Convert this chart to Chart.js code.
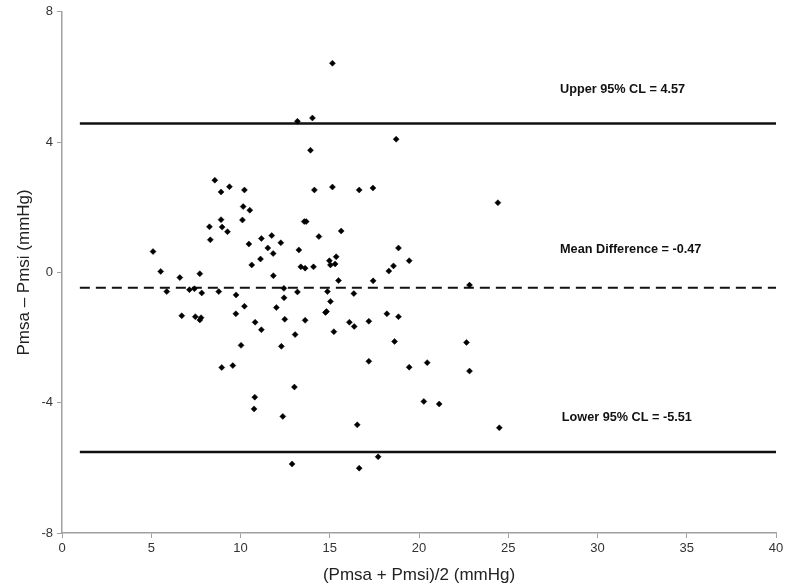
<!DOCTYPE html>
<html>
<head>
<meta charset="utf-8">
<script src="https://cdn.jsdelivr.net/npm/chart.js@4/dist/chart.umd.min.js"></script>
<style>
html,body{margin:0;padding:0;background:#fff;}
#wrap{width:800px;height:586px;position:relative;}
</style>
</head>
<body>
<div id="wrap"><canvas id="c" width="800" height="586"></canvas></div>
<script>
// Mean of the two measurements (mmHg)
const meanValues = [5.10,5.53,5.87,6.60,6.71,7.14,7.42,7.47,7.72,7.79,7.72,7.83,8.31,8.26,8.56,8.91,9.38,8.91,8.97,9.27,
  8.78,8.95,9.57,9.75,9.74,10.22,10.03,10.22,10.15,10.52,10.11,10.47,10.63,10.82,11.17,10.80,10.76,11.12,11.17,11.53,
  11.75,11.83,12.26,11.84,12.01,12.43,12.44,12.48,12.29,12.37,12.89,13.06,13.02,13.19,13.27,13.38,13.62,13.57,13.68,13.62,
  13.19,14.03,13.92,14.14,14.09,14.39,14.76,14.82,14.87,15.04,14.98,15.04,15.30,15.36,15.15,15.15,15.23,15.49,15.64,16.10,
  16.37,16.35,16.54,16.65,16.65,17.19,17.19,17.42,17.43,17.71,18.20,18.31,18.57,18.72,18.85,18.85,18.63,19.45,19.45,20.46,
  20.27,21.13,22.66,22.83,22.83,24.42,24.50];
// Difference of the two measurements (mmHg)
const diffValues = [0.64,0.03,-0.59,-0.16,-1.33,-0.53,-0.50,-1.36,-1.46,-1.39,-0.04,-0.63,1.00,1.40,2.83,2.47,2.63,1.62,1.39,1.25,
  -0.59,-2.92,-2.86,-0.69,-1.27,-1.04,-2.24,2.53,2.02,1.91,1.61,0.87,0.23,-1.53,-1.76,-3.83,-4.19,0.41,1.04,0.75,
  1.13,0.58,0.91,-0.10,-1.08,-0.49,-0.78,-1.44,-2.27,-4.42,-5.88,-1.91,-3.52,-0.60,0.69,0.17,0.13,1.56,1.56,-1.47,
  4.64,4.74,3.75,2.53,0.17,1.10,-1.23,-1.20,-0.59,-0.89,0.36,0.23,0.26,0.48,2.62,6.42,-1.82,-0.25,1.27,-1.53,
  -1.66,-0.65,-4.68,-6.01,2.53,-1.50,-2.73,2.59,-0.26,-5.66,-1.27,0.04,0.20,4.09,0.75,-1.36,-2.12,0.36,-2.91,-2.77,
  -3.96,-4.04,-2.15,-3.03,-0.39,2.14,-4.77];
const upperCL = 4.57;
const meanDiff = -0.47;
const lowerCL = -5.51;
const lineRange = [1, 40];
const xTicks = [0,5,10,15,20,25,30,35,40];
const yTicks = [-8,-4,0,4,8];
const labelTexts = ['Upper 95% CL = 4.57', 'Mean Difference = -0.47', 'Lower 95% CL = -5.51'];

const points = meanValues.map((m,i)=>({x:m, y:diffValues[i]}));
const hline = v => lineRange.map(x=>({x:x, y:v}));

const labelPlugin = {
  id:'labels',
  afterDatasetsDraw(chart){
    const {ctx, scales:{x,y}} = chart;
    ctx.save();
    ctx.fillStyle = '#111';
    ctx.font = 'bold 12.7px "Liberation Sans", Arial, sans-serif';
    ctx.textBaseline = 'middle';
    ctx.textAlign = 'left';
    const spots = [[27.9, 5.62],[27.9, 0.69],[28.0, -4.44]];
    labelTexts.forEach((t,i)=>{
      ctx.fillText(t, x.getPixelForValue(spots[i][0]), y.getPixelForValue(spots[i][1]));
    });
    ctx.restore();
  }
};

new Chart(document.getElementById('c'), {
  type:'scatter',
  data:{
    datasets:[
      {data:points, pointStyle:'rectRot', pointRadius:3, pointHoverRadius:3, backgroundColor:'#000', borderColor:'#000', borderWidth:0.5, order:0},
      {type:'line', data:hline(upperCL), borderColor:'#111', borderWidth:2.5, pointRadius:0, fill:false, order:1},
      {type:'line', data:hline(meanDiff), borderColor:'#111', borderWidth:2, borderDash:[10,6], pointRadius:0, fill:false, order:1},
      {type:'line', data:hline(lowerCL), borderColor:'#111', borderWidth:2.5, pointRadius:0, fill:false, order:1}
    ]
  },
  options:{
    responsive:false,
    animation:false,
    events:[],
    layout:{padding:{top:10, right:24, left:14, bottom:0}},
    plugins:{legend:{display:false}, tooltip:{enabled:false}},
    scales:{
      x:{
        type:'linear', min:0, max:40,
        afterBuildTicks(s){ s.ticks = xTicks.map(v=>({value:v})); },
        afterFit(s){ s.height = 53; },
        grid:{drawOnChartArea:false, drawTicks:true, tickLength:5, color:'#a0a0a0'},
        border:{color:'#a0a0a0', width:1.5},
        ticks:{color:'#333', font:{family:'"Liberation Sans", Arial, sans-serif', size:13}, padding:3, maxRotation:0},
        title:{display:true, text:'(Pmsa + Pmsi)/2 (mmHg)', color:'#222', font:{family:'"Liberation Sans", Arial, sans-serif', size:17}, padding:{top:1,bottom:0}}
      },
      y:{
        type:'linear', min:-8, max:8,
        afterBuildTicks(s){ s.ticks = yTicks.map(v=>({value:v})); },
        afterFit(s){ s.width = 48; },
        grid:{drawOnChartArea:false, drawTicks:true, tickLength:5, color:'#a0a0a0'},
        border:{color:'#a0a0a0', width:1.5},
        ticks:{color:'#333', font:{family:'"Liberation Sans", Arial, sans-serif', size:13}, padding:4},
        title:{display:true, text:'Pmsa – Pmsi (mmHg)', color:'#222', font:{family:'"Liberation Sans", Arial, sans-serif', size:17}, padding:{top:0,bottom:6}}
      }
    }
  },
  plugins:[labelPlugin]
});
</script>
</body>
</html>
